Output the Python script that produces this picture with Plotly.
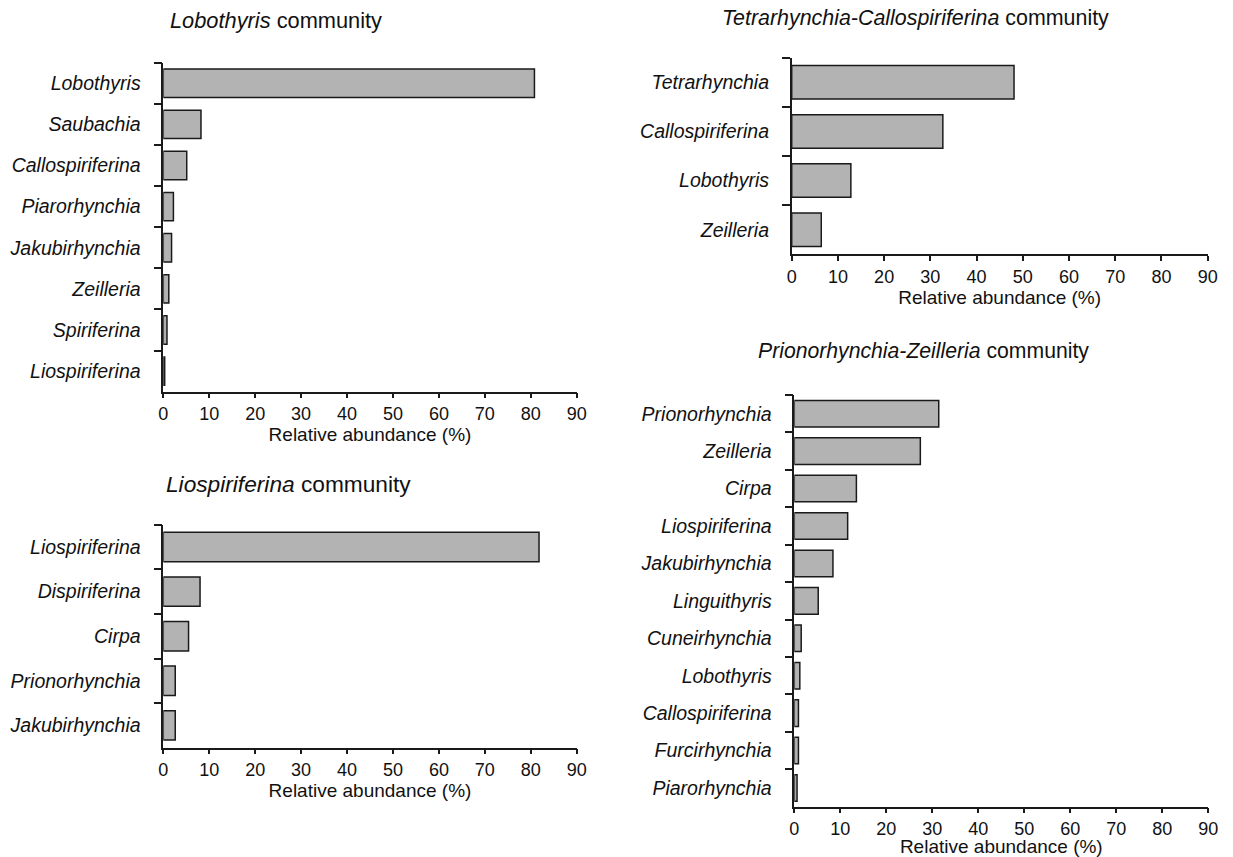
import plotly.graph_objects as go

W, H = 1233, 857

lob_cats = ["Lobothyris", "Saubachia", "Callospiriferina", "Piarorhynchia",
            "Jakubirhynchia", "Zeilleria", "Spiriferina", "Liospiriferina"]
lob_vals = [80.8, 8.2, 5.1, 2.2, 1.8, 1.2, 0.8, 0.3]

lio_cats = ["Liospiriferina", "Dispiriferina", "Cirpa", "Prionorhynchia", "Jakubirhynchia"]
lio_vals = [81.8, 8.0, 5.5, 2.6, 2.6]

tet_cats = ["Tetrarhynchia", "Callospiriferina", "Lobothyris", "Zeilleria"]
tet_vals = [48.1, 32.7, 12.8, 6.4]

pri_cats = ["Prionorhynchia", "Zeilleria", "Cirpa", "Liospiriferina", "Jakubirhynchia",
            "Linguithyris", "Cuneirhynchia", "Lobothyris", "Callospiriferina",
            "Furcirhynchia", "Piarorhynchia"]
pri_vals = [31.4, 27.4, 13.5, 11.6, 8.4, 5.2, 1.5, 1.2, 0.9, 0.9, 0.6]

x_ticks = [0, 10, 20, 30, 40, 50, 60, 70, 80, 90]
x_title = "Relative abundance (%)"

FONT = "Liberation Sans, Arial, Helvetica, sans-serif"
BAR_FILL = "#b3b3b3"
LINE = "#1a1a1a"


def px_x(p):
    return p / W


def px_y(p):
    return 1 - p / H


# (cats, vals, x-pixel domain, y-pixel domain (top,bottom), bar width,
#  title html, title pos, title font size)
panels = [
    (lob_cats, lob_vals, (163.3, 576.7), (62.7, 391.7), 0.69,
     "<i>Lobothyris</i> community", (168, 21), 21.8),
    (lio_cats, lio_vals, (163.3, 576.7), (524.7, 747.7), 0.66,
     "<i>Liospiriferina</i> community", (164, 484), 22.7),
    (tet_cats, tet_vals, (791.7, 1207.7), (57.7, 254.3), 0.68,
     "<i>Tetrarhynchia-Callospiriferina</i> community", (720, 18), 21.4),
    (pri_cats, pri_vals, (794.3, 1208.3), (395.0, 806.7), 0.71,
     "<i>Prionorhynchia-Zeilleria</i> community", (756, 351), 21.2),
]

fig = go.Figure()
annotations = []
layout_axes = {}

for i, (cats, vals, xd, yd, bw, title, tpos, tsize) in enumerate(panels, start=1):
    xa = "x" if i == 1 else f"x{i}"
    ya = "y" if i == 1 else f"y{i}"
    fig.add_trace(go.Bar(
        x=vals, y=cats, orientation="h", width=bw,
        marker=dict(color=BAR_FILL, line=dict(color=LINE, width=1.5)),
        xaxis=xa, yaxis=ya, showlegend=False, hoverinfo="x+y",
    ))
    xkey = "xaxis" if i == 1 else f"xaxis{i}"
    ykey = "yaxis" if i == 1 else f"yaxis{i}"
    layout_axes[xkey] = dict(
        domain=[px_x(xd[0]), px_x(xd[1])], anchor=ya, automargin=False,
        range=[0, 90], tickvals=x_ticks, ticks="outside", ticklen=5,
        tickwidth=1.5, tickcolor=LINE, showline=True, linecolor=LINE,
        linewidth=1.5, showgrid=False, zeroline=False,
        tickfont=dict(family=FONT, size=18, color="#111"),
        title=dict(text=x_title, font=dict(family=FONT, size=19, color="#111"),
                   standoff=4),
        fixedrange=True,
    )
    layout_axes[ykey] = dict(
        domain=[px_y(yd[1]), px_y(yd[0])], anchor=xa, automargin=False,
        type="category", categoryorder="array", categoryarray=cats,
        autorange="reversed", tickson="boundaries", ticks="outside",
        ticklen=8, tickwidth=1.5, tickcolor=LINE, showline=True,
        linecolor=LINE, linewidth=1.5, showgrid=False, zeroline=False,
        ticklabelstandoff=17,
        tickfont=dict(family=FONT, size=19.5, color="#111", style="italic"),
        fixedrange=True,
    )
    annotations.append(dict(
        text=title, x=px_x(tpos[0]), y=px_y(tpos[1]), xref="paper", yref="paper",
        xanchor="left", yanchor="middle", showarrow=False,
        font=dict(family=FONT, size=tsize, color="#111"),
    ))

fig.update_layout(
    width=W, height=H, margin=dict(l=0, r=0, t=0, b=0, autoexpand=False),
    paper_bgcolor="white", plot_bgcolor="white",
    annotations=annotations, **layout_axes,
)

fig.write_html(
    "out.html",
    config={"displayModeBar": False},
    post_script="document.body.style.margin='0';document.body.style.overflow='hidden';",
)
